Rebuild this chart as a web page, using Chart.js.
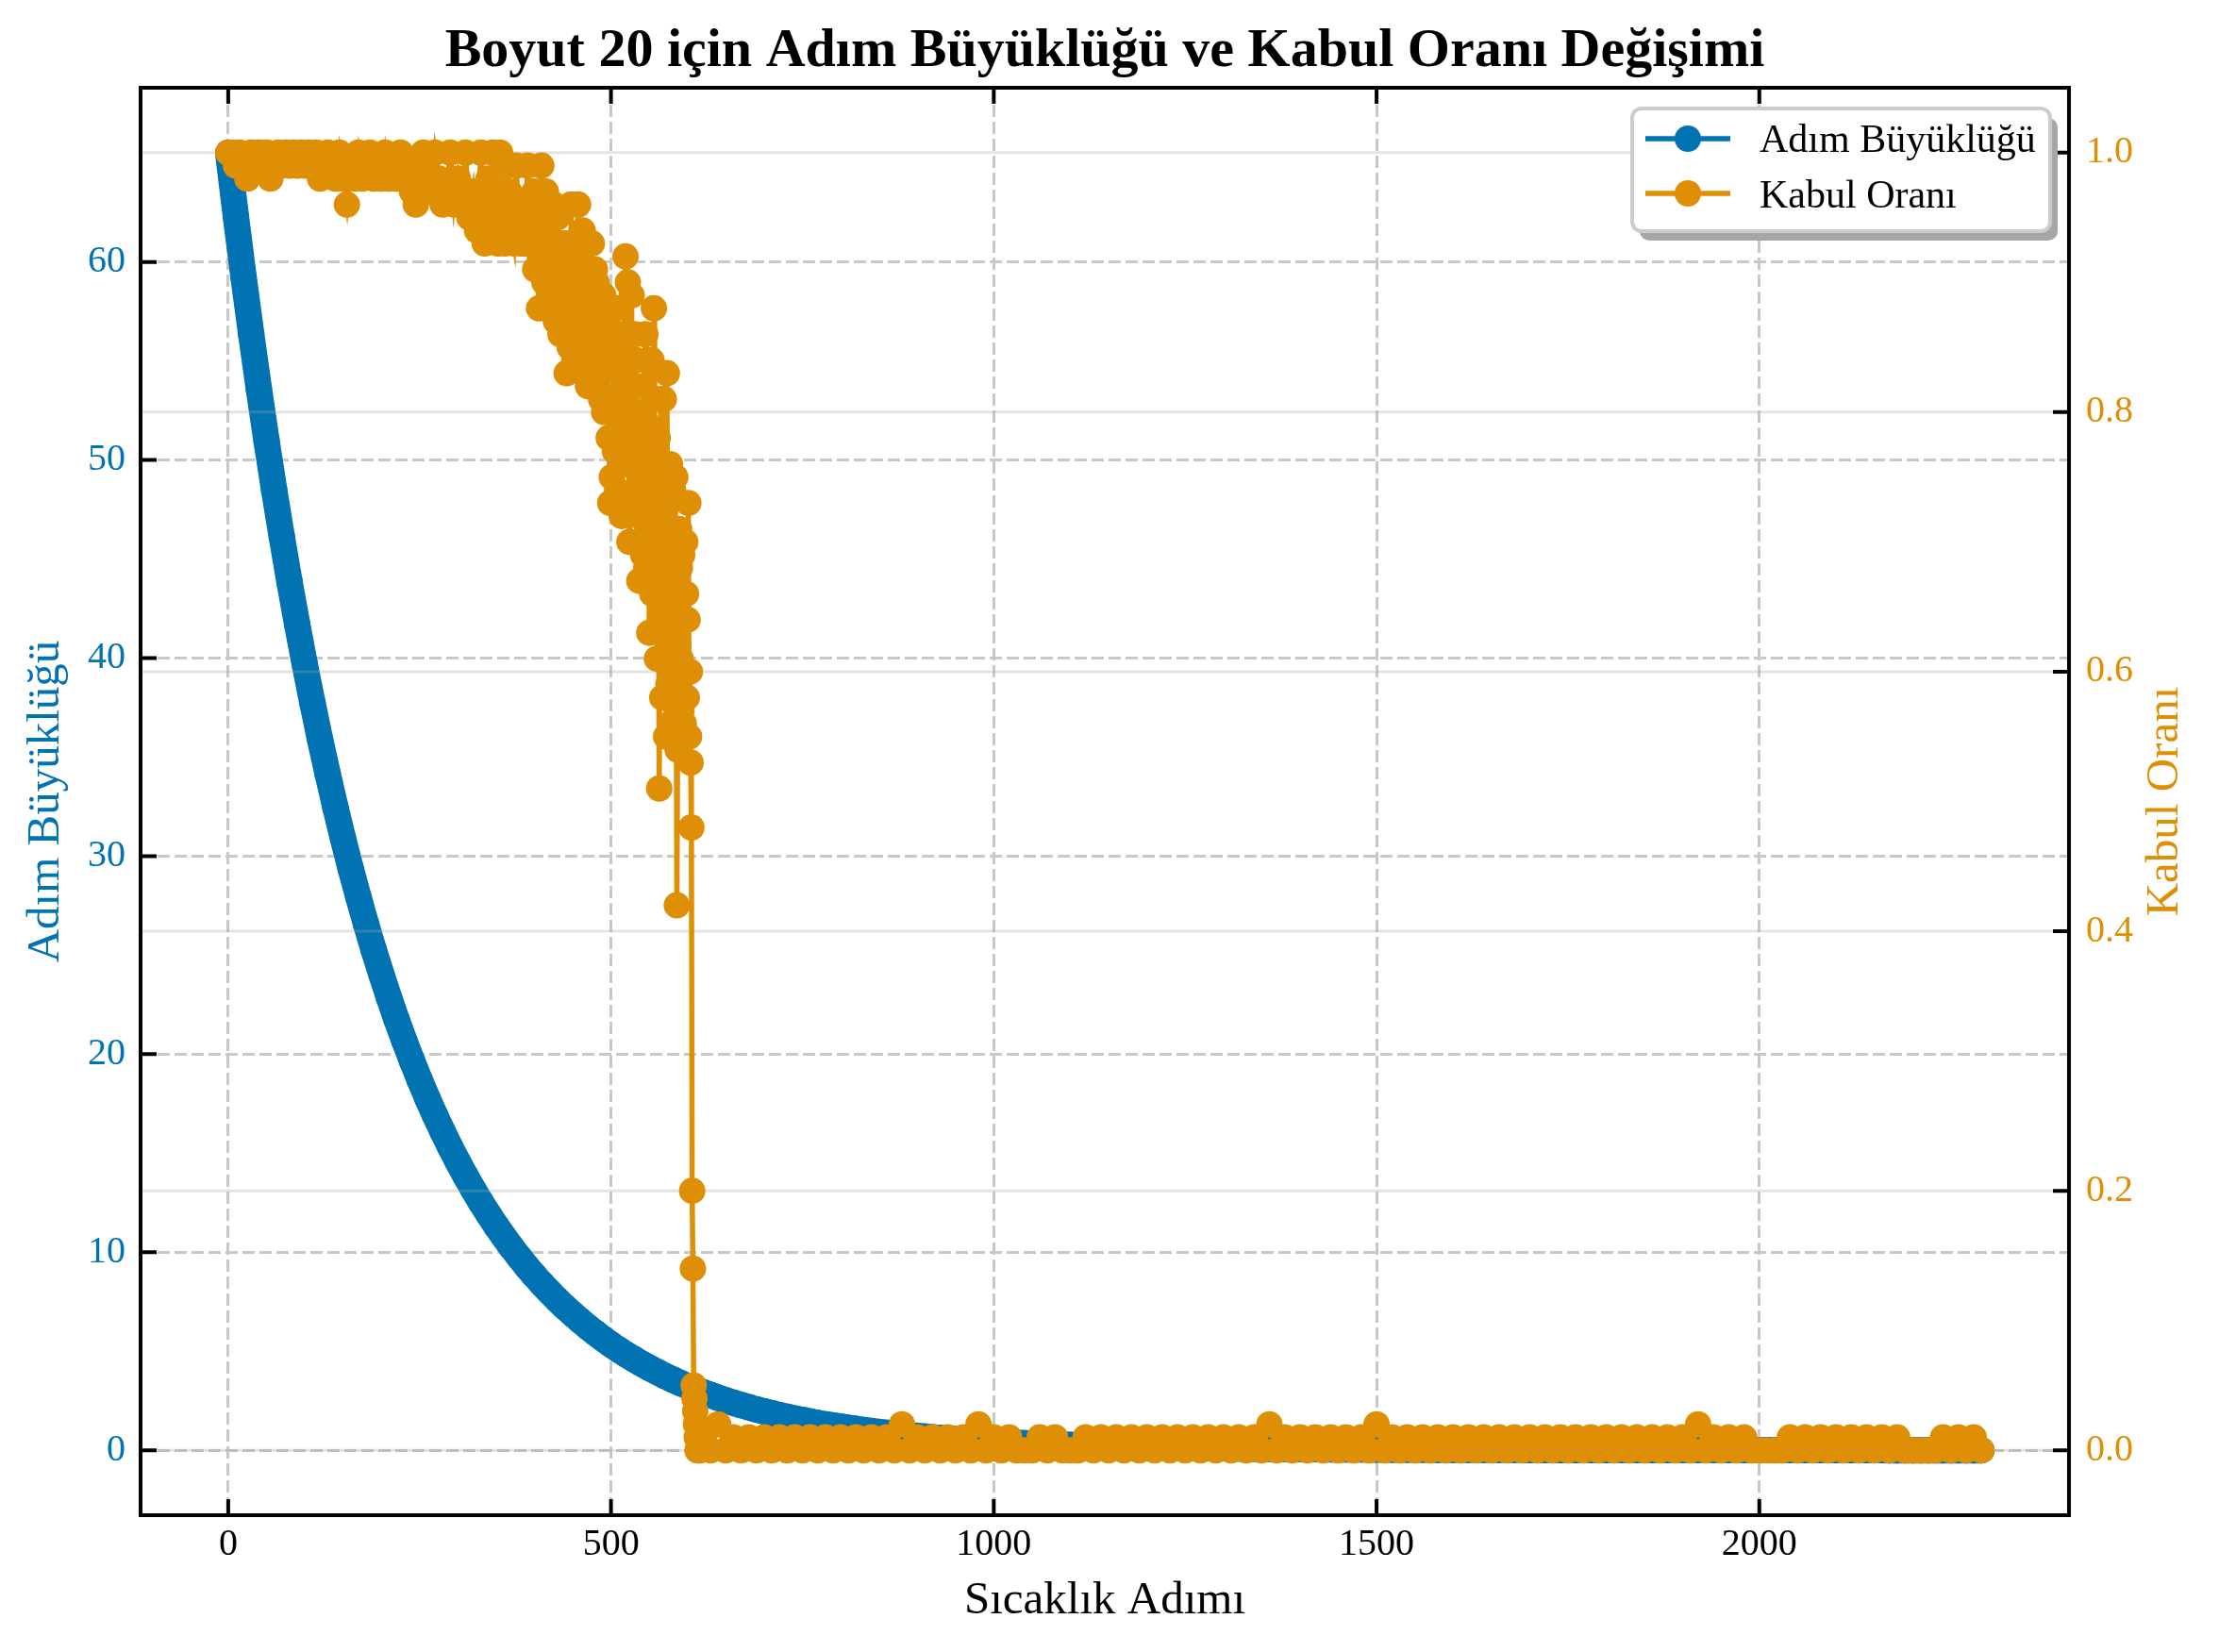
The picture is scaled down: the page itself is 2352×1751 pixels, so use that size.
<!DOCTYPE html>
<html><head><meta charset="utf-8">
<script src="https://cdn.jsdelivr.net/npm/chart.js@4.4.1/dist/chart.umd.min.js"></script>
<style>html,body{margin:0;padding:0;background:#fff;}canvas{display:block;}</style>
</head><body>
<canvas id="c" width="2352" height="1751" style="width:2352px;height:1751px"></canvas>
<script>
// ---------- texts ----------
const titleText = "Boyut 20 için Adım Büyüklüğü ve Kabul Oranı Değişimi";
const xLabel = "Sıcaklık Adımı";
const leftLabel = "Adım Büyüklüğü";
const rightLabel = "Kabul Oranı";

// ---------- ticks ----------
const xTicks = [0, 500, 1000, 1500, 2000];
const leftTicks = [0, 10, 20, 30, 40, 50, 60];
const rightTicks = [0, 0.2, 0.4, 0.6, 0.8, 1.0];
const rightTickLabels = ["0.0", "0.2", "0.4", "0.6", "0.8", "1.0"];

// ---------- step size (read every 10 temperature steps, from step 0) ----------
const stepSizeStart = 0, stepSizeEvery = 10;
const stepSizes = [
  65.5, 62.30, 59.25, 56.36, 53.60, 50.98, 48.49, 46.12, 43.86, 41.72,
  39.68, 37.74, 35.89, 34.14, 32.47, 30.88, 29.37, 27.94, 26.57, 25.27,
  24.04, 22.86, 21.74, 20.68, 19.67, 18.71, 17.79, 16.92, 16.10, 15.31,
  14.56, 13.85, 13.17, 12.53, 11.92, 11.33, 10.78, 10.25, 9.75, 9.27,
  8.82, 8.39, 7.98, 7.59, 7.22, 6.87, 6.53, 6.21, 5.91, 5.62,
  5.34, 5.08, 4.83, 4.60, 4.37, 4.16, 3.96, 3.76, 3.58, 3.40,
  3.24, 3.08, 2.93, 2.79, 2.65, 2.52, 2.40, 2.28, 2.17, 2.06,
  1.96, 1.87, 1.77, 1.69, 1.60, 1.53, 1.45, 1.38, 1.31, 1.25,
  1.19, 1.13, 1.08, 1.02, 0.97, 0.92, 0.88, 0.84, 0.80, 0.76,
  0.72, 0.69, 0.65, 0.62, 0.59, 0.56, 0.53, 0.51, 0.48, 0.46,
  0.436, 0.415, 0.394, 0.375, 0.357, 0.339, 0.323, 0.307, 0.292, 0.277,
  0.264, 0.251, 0.239, 0.227, 0.216, 0.205, 0.195, 0.186, 0.177, 0.168,
  0.160, 0.152, 0.145, 0.138, 0.131, 0.124, 0.118, 0.113, 0.107, 0.102,
  0.097, 0.092, 0.088, 0.083, 0.079, 0.075, 0.072, 0.068, 0.065, 0.062,
  0.059, 0.056, 0.053, 0.050, 0.048, 0.046, 0.043, 0.041, 0.039, 0.037,
  0.036, 0.034, 0.032, 0.031, 0.029, 0.028, 0.026, 0.025, 0.024, 0.023,
  0.022, 0.020, 0.019, 0.019, 0.018, 0.017, 0.016, 0.015, 0.014, 0.014,
  0.013, 0.012, 0.012, 0.011, 0.011, 0.010, 0.010, 0.009, 0.009, 0.008,
  0.0079, 0.0075, 0.0072, 0.0068, 0.0065, 0.0062, 0.0059, 0.0056, 0.0053, 0.0050,
  0.0048, 0.0046, 0.0043, 0.0041, 0.0039, 0.0037, 0.0035, 0.0034, 0.0032, 0.0031,
  0.0029, 0.0028, 0.0026, 0.0025, 0.0024, 0.0023, 0.0022, 0.0020, 0.0019, 0.0019,
  0.0018, 0.0017, 0.0016, 0.0015, 0.0014, 0.0014, 0.0013, 0.0012, 0.0012, 0.0011,
  0.0011, 0.0010, 0.0010, 0.0009, 0.0009, 0.0008, 0.0008, 0.0008, 0.0007, 0.0007
];

// ---------- acceptance rate, first part (irregular steps) ----------
const acceptHeadSteps = [
  0,5,10,15,20,25,30,35,40,45,50,55,60,65,70,75,80,85,90,95,
  100,105,110,115,120,125,130,135,140,145,150,155,160,165,170,175,180,185,190,195,
  200,205,210,215,220,225,230,235,240,245,250,255,260,265,270,275,280,285,290,295,
  300,305,310,315,320,325,330,335,340,
  343,346,349,352,355,358,361,364,367,370,373,376,379,382,385,388,391,394,397,400,
  401,403,404,406,407,409,410,412,413,415,416,418,419,421,422,424,425,427,428,430,
  431,433,434,436,437,439,440,442,443,445,446,448,449,451,452,454,455,457,458,460,
  461,463,464,466,467,469,470,472,473,475,476,478,479,481,482,484,485,487,488,490,
  491,493,494,496,497,499,501,502,504,505,507,508,510,511,513,514,516,517,519,520,
  522,524,525,527,528,530,531,533,534,536,537,538,540,541,542,543,545,546,548,549,
  550,551,553,554,556,557,558,559,560,561,562,563,564,565,566,567,568,569,570,571,
  572,573,574,575,576,577,578,579,580,581,582,583,584,585,586,587,588,589,590,591,
  592,593,594,595,596,597,598,599,600,601,602,603,604,605,606,607,608,609,610,611,
  612,613,614,616
];
const acceptHeadRates = [
  1.0,1.0,0.99,1.0,0.99,0.98,1.0,0.99,1.0,0.99,1.0,0.98,0.99,1.0,0.99,1.0,0.99,1.0,0.99,1.0,
  0.99,1.0,0.99,1.0,0.98,0.99,1.0,0.99,0.98,1.0,0.98,0.96,0.99,0.98,1.0,0.98,0.99,1.0,0.98,0.99,
  0.98,1.0,0.98,0.99,0.98,1.0,0.99,0.98,0.97,0.96,0.99,1.0,0.98,0.97,1.0,0.98,0.96,0.97,1.0,0.96,
  0.98,0.96,1.0,0.95,0.97,0.94,1.0,0.93,0.98,
  0.94,1.0,0.96,0.93,1.0,0.95,0.93,0.99,0.97,0.94,0.93,0.99,0.96,0.93,0.95,0.93,0.99,0.95,0.93,0.97,
  0.91,0.94,0.96,0.88,0.92,0.99,0.95,0.93,0.90,0.97,0.94,0.91,0.89,0.96,0.92,0.93,0.96,0.90,0.87,0.95,
  0.93,0.91,0.86,0.88,0.92,0.93,0.89,0.83,0.93,0.90,0.85,0.96,0.91,0.88,0.84,0.92,0.89,0.96,0.85,0.86,
  0.91,0.94,0.87,0.83,0.90,0.85,0.82,0.91,0.88,0.93,0.84,0.87,0.91,0.90,0.82,0.85,0.88,0.81,0.84,0.89,
  0.80,0.86,0.87,0.81,0.78,0.73,0.75,0.80,0.84,0.77,0.88,0.74,0.80,0.83,0.86,0.72,0.78,0.85,0.92,0.76,
  0.90,0.70,0.82,0.89,0.73,0.78,0.86,0.84,0.70,0.72,0.67,0.80,0.79,0.74,0.69,0.82,0.86,0.68,0.74,0.79,
  0.63,0.72,0.84,0.66,0.88,0.75,0.78,0.68,0.61,0.78,0.70,0.51,0.64,0.81,0.72,0.58,0.65,0.81,0.74,0.66,
  0.55,0.83,0.70,0.59,0.63,0.76,0.56,0.62,0.69,0.74,0.58,0.66,0.75,0.66,0.42,0.54,0.62,0.71,0.68,0.61,
  0.57,0.69,0.64,0.56,0.60,0.70,0.66,0.58,0.64,0.73,0.55,0.60,0.53,0.48,0.20,0.14,0.05,0.04,0.03,0.02,
  0.01,0.0,0.01,0.0
];

// ---------- acceptance rate, tail (read every 10 steps from step 620) ----------
const acceptTailStart = 620, acceptTailEvery = 10;
const acceptTailRates = [
  0.01,0,0.02,0,0.01,0,0.01,0,  0.01,0,0.01,0,0.01,0,0.01,0,  0.01,0,0.01,0,0.01,0,0.01,0,
  0.01,0,0.02,0,0.01,0,0.01,0,  0.01,0,0.01,0,0.02,0,0.01,0,  0.01,0,0,0,0.01,0,0.01,0,
  0,0,0.01,0,0.01,0,0.01,0,     0.01,0,0.01,0,0.01,0,0.01,0,  0.01,0,0.01,0,0.01,0,0.01,0,
  0.01,0,0.02,0,0.01,0,0.01,0,  0.01,0,0.01,0,0.01,0,0.01,0,  0.02,0,0.01,0,0.01,0,0.01,0,
  0.01,0,0.01,0,0.01,0,0.01,0,  0.01,0,0.01,0,0.01,0,0.01,0,  0.01,0,0.01,0,0.01,0,0.01,0,
  0.01,0,0.01,0,0.01,0,0.01,0,  0.01,0,0.02,0,0.01,0,0.01,0,  0.01,0,0,0,0,0,0.01,0,
  0.01,0,0.01,0,0.01,0,0.01,0,  0.01,0,0.01,0,0.01,0,0,0,     0,0,0.01,0,0.01,0,0.01,0
];

// ---------- style ----------
const SERIF = '"Liberation Serif", "Times New Roman", serif';
const BLUE = '#0173B2';
const ORANGE = '#DE8F05';

function build() {
  const stepData = stepSizes.map((v, i) => ({ x: stepSizeStart + i * stepSizeEvery, y: v }));
  const acceptData = acceptHeadSteps.map((s, i) => ({ x: s, y: acceptHeadRates[i] }))
    .concat(acceptTailRates.map((v, i) => ({ x: acceptTailStart + i * acceptTailEvery, y: v })));

  const overlay = {
    id: 'overlay',
    afterDatasetDraw(chart, args) {
      if (args.index !== 0) return;
      const ctx = chart.ctx, a = chart.chartArea, y2 = chart.scales.y2;
      ctx.save();
      ctx.beginPath(); ctx.rect(a.left, a.top, a.right - a.left, a.bottom - a.top); ctx.clip();
      ctx.strokeStyle = 'rgba(165,165,165,0.3)';
      ctx.lineWidth = 3;
      rightTicks.forEach(v => {
        const p = y2.getPixelForValue(v);
        ctx.beginPath(); ctx.moveTo(a.left, p); ctx.lineTo(a.right, p); ctx.stroke();
      });
      ctx.restore();
    },
    afterDraw(chart) {
      const ctx = chart.ctx, a = chart.chartArea;
      const xs = chart.scales.x, ys = chart.scales.y, y2 = chart.scales.y2;
      ctx.save();
      // spines
      ctx.strokeStyle = '#000'; ctx.lineWidth = 4;
      ctx.strokeRect(a.left, a.top, a.right - a.left, a.bottom - a.top);
      // inward ticks
      const TL = 17;
      ctx.lineWidth = 4;
      ctx.beginPath();
      xTicks.forEach(v => {
        const p = xs.getPixelForValue(v);
        ctx.moveTo(p, a.bottom); ctx.lineTo(p, a.bottom - TL);
        ctx.moveTo(p, a.top); ctx.lineTo(p, a.top + TL);
      });
      leftTicks.forEach(v => {
        const p = ys.getPixelForValue(v);
        ctx.moveTo(a.left, p); ctx.lineTo(a.left + TL, p);
      });
      rightTicks.forEach(v => {
        const p = y2.getPixelForValue(v);
        ctx.moveTo(a.right, p); ctx.lineTo(a.right - TL, p);
      });
      ctx.stroke();

      // title
      const cx = (a.left + a.right) / 2, cy = (a.top + a.bottom) / 2;
      ctx.fillStyle = '#000';
      ctx.textAlign = 'center'; ctx.textBaseline = 'alphabetic';
      ctx.font = 'bold 58px ' + SERIF;
      ctx.fillText(titleText, cx, 70);
      // axis titles
      ctx.font = '49px ' + SERIF;
      ctx.fillText(xLabel, cx, 1710);
      ctx.save();
      ctx.translate(62, cy); ctx.rotate(-Math.PI / 2);
      ctx.fillStyle = BLUE; ctx.fillText(leftLabel, 0, 0);
      ctx.restore();
      ctx.save();
      ctx.translate(2308, cy); ctx.rotate(-Math.PI / 2);
      ctx.fillStyle = ORANGE; ctx.fillText(rightLabel, 0, 0);
      ctx.restore();

      // legend
      const lx = 1730, ly = 115, lw = 443, lh = 130, r = 10;
      ctx.fillStyle = '#a6a6a6';
      ctx.beginPath(); ctx.roundRect(lx + 8, ly + 10, lw, lh, r); ctx.fill();
      ctx.fillStyle = '#ffffff';
      ctx.beginPath(); ctx.roundRect(lx, ly, lw, lh, r); ctx.fill();
      ctx.strokeStyle = '#cccccc'; ctx.lineWidth = 4;
      ctx.beginPath(); ctx.roundRect(lx, ly, lw, lh, r); ctx.stroke();
      const entries = [[leftLabel, BLUE, 147, 161], [rightLabel, ORANGE, 205, 220]];
      entries.forEach(([t, c, y, by]) => {
        ctx.strokeStyle = c; ctx.lineWidth = 5.5;
        ctx.beginPath(); ctx.moveTo(1744, y); ctx.lineTo(1834, y); ctx.stroke();
        ctx.fillStyle = c;
        ctx.beginPath(); ctx.arc(1789, y, 14, 0, Math.PI * 2); ctx.fill();
        ctx.fillStyle = '#000'; ctx.textAlign = 'left';
        ctx.font = '42px ' + SERIF;
        ctx.fillText(t, 1865, by);
      });
      ctx.restore();
    }
  };

  const tickFont = { family: SERIF, size: 40 };
  new Chart(document.getElementById('c'), {
    type: 'line',
    data: {
      datasets: [
        { label: leftLabel, data: stepData, yAxisID: 'y', xAxisID: 'x',
          borderColor: BLUE, backgroundColor: BLUE, pointBackgroundColor: BLUE, pointBorderColor: BLUE,
          pointRadius: 14, pointBorderWidth: 0, borderWidth: 28, borderCapStyle: 'round', borderJoinStyle: 'round',
          tension: 0, fill: false, order: 2 },
        { label: rightLabel, data: acceptData, yAxisID: 'y2', xAxisID: 'x',
          borderColor: ORANGE, backgroundColor: ORANGE, pointBackgroundColor: ORANGE, pointBorderColor: ORANGE,
          pointRadius: 14, pointBorderWidth: 0, borderWidth: 5.5, tension: 0, fill: false, order: 1 }
      ]
    },
    options: {
      responsive: false, animation: false, devicePixelRatio: 1, events: [],
      layout: { padding: { top: 93, left: 0, right: 0, bottom: 0 } },
      plugins: { legend: { display: false }, title: { display: false }, tooltip: { enabled: false } },
      scales: {
        x: {
          type: 'linear', position: 'bottom', min: -114.5, max: 2404.5,
          afterBuildTicks: s => { s.ticks = xTicks.map(v => ({ value: v })); },
          afterFit: s => { s.height = 145; },
          ticks: { font: tickFont, color: '#000', padding: 7, maxRotation: 0, autoSkip: false, callback: v => String(v) },
          grid: { color: '#c8c8c8', lineWidth: 3, drawTicks: false },
          border: { display: false, dash: [13, 5] }
        },
        y: {
          type: 'linear', position: 'left', min: -3.28, max: 68.8,
          afterBuildTicks: s => { s.ticks = leftTicks.map(v => ({ value: v })); },
          afterFit: s => { s.width = 149; },
          ticks: { font: tickFont, color: BLUE, padding: 16, autoSkip: false, callback: v => String(v) },
          grid: { color: '#c8c8c8', lineWidth: 3, drawTicks: false },
          border: { display: false, dash: [13, 5] }
        },
        y2: {
          type: 'linear', position: 'right', min: -0.05, max: 1.05,
          afterBuildTicks: s => { s.ticks = rightTicks.map(v => ({ value: v })); },
          afterFit: s => { s.width = 159; },
          ticks: { font: tickFont, color: ORANGE, padding: 18, autoSkip: false, callback: (v, i) => rightTickLabels[i] },
          grid: { display: false, drawTicks: false },
          border: { display: false }
        }
      }
    },
    plugins: [overlay]
  });
}

Promise.all([
  document.fonts.load('40px "Liberation Serif"'),
  document.fonts.load('bold 58px "Liberation Serif"')
]).then(build, build);
</script>
</body></html>
